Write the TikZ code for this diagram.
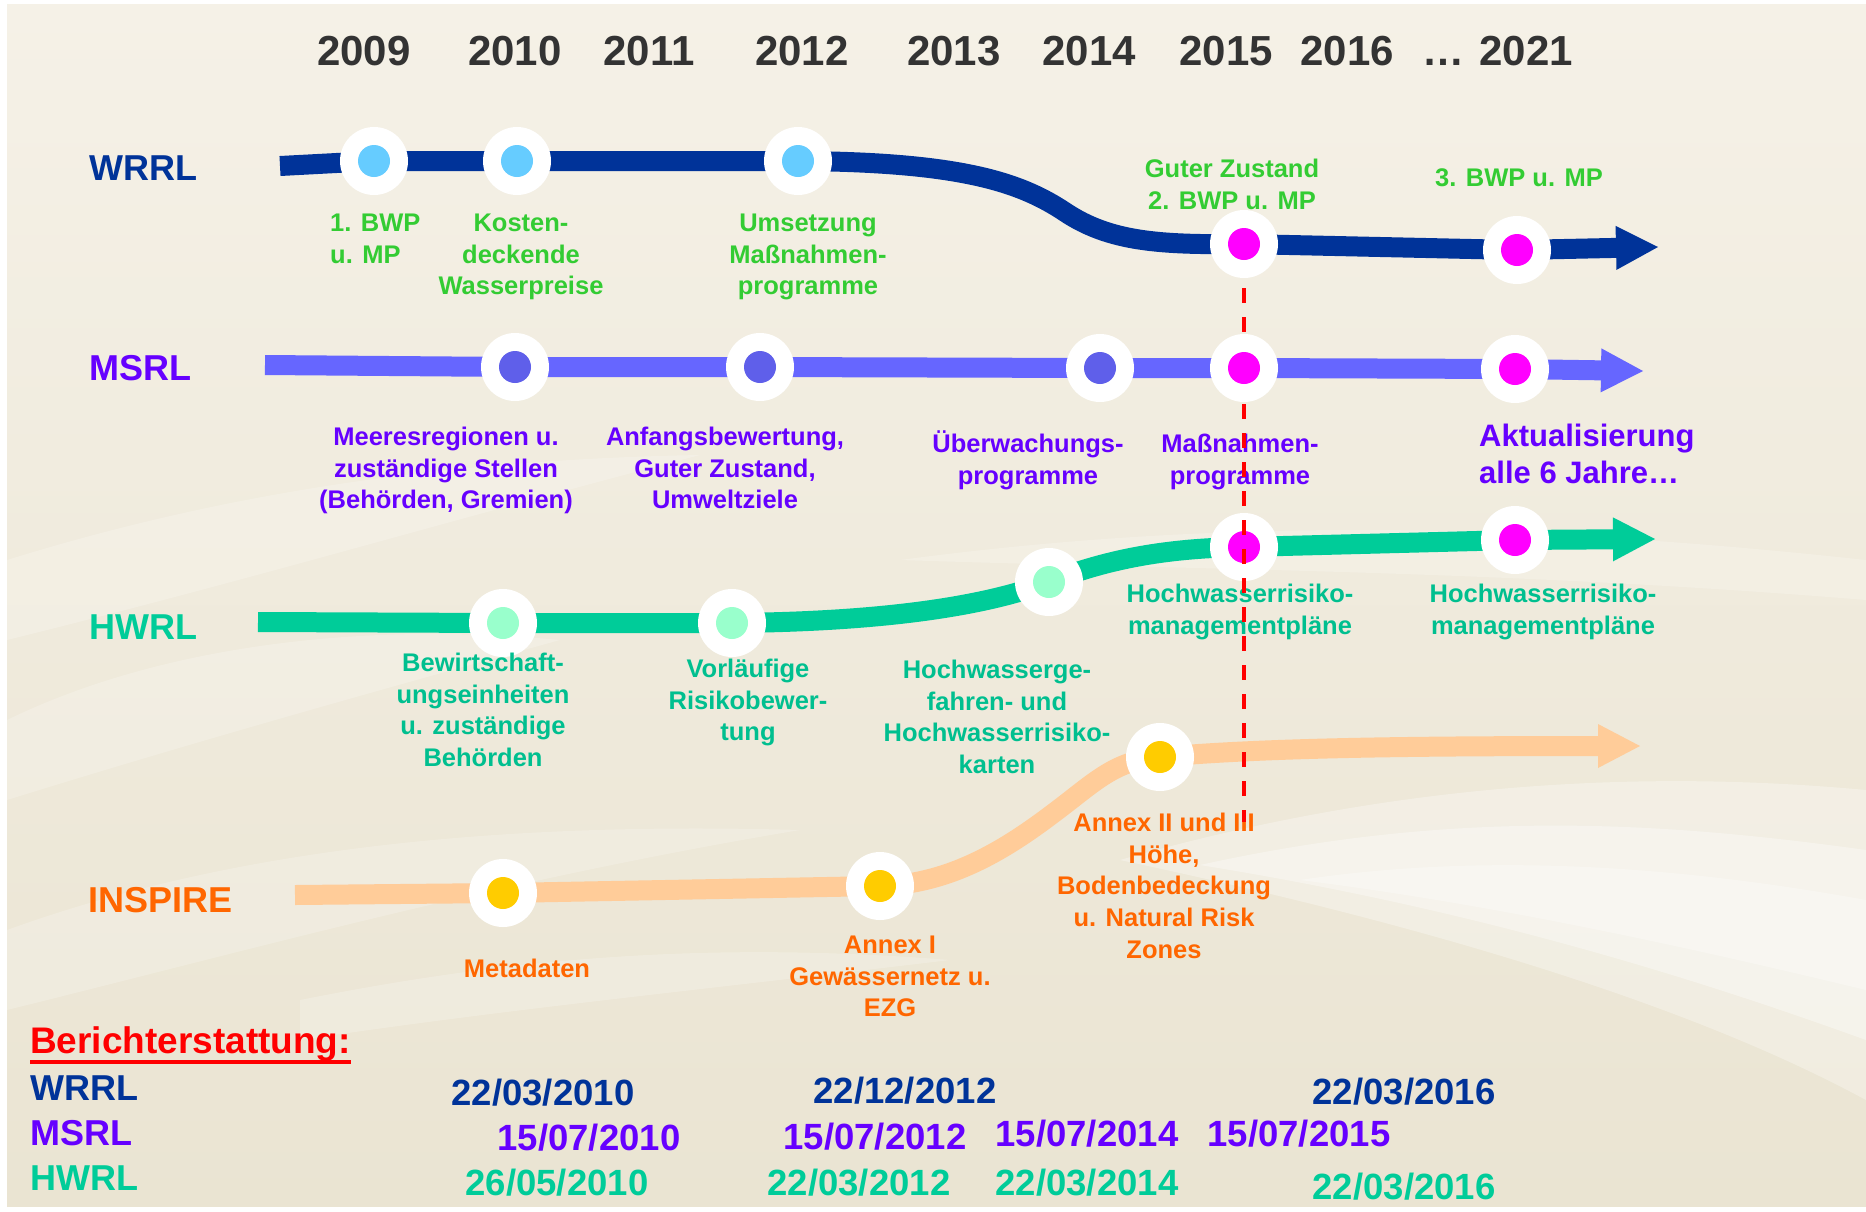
\documentclass[tikz,border=0pt]{standalone}
\usepackage{fontspec}
\setmainfont{Liberation Sans}
\usetikzlibrary{arrows.meta,calc}
\definecolor{wrrl}{HTML}{003399}
\definecolor{wlab}{HTML}{33CC33}
\definecolor{wdot}{HTML}{66CCFF}
\definecolor{msrl}{HTML}{6666FF}
\definecolor{mtxt}{HTML}{6600FF}
\definecolor{mdot}{HTML}{5F5FEA}
\definecolor{hwrl}{HTML}{00CC99}
\definecolor{htxt}{HTML}{00BF8F}
\definecolor{hdot}{HTML}{99FFCC}
\definecolor{insp}{HTML}{FFCC99}
\definecolor{itxt}{HTML}{FF6600}
\definecolor{idot}{HTML}{FFCC00}
\definecolor{mag}{HTML}{FF00FF}
\definecolor{yeartxt}{HTML}{333333}
\definecolor{bgtop}{HTML}{F5F1E7}
\definecolor{bgbot}{HTML}{EAE4D2}
\newcommand\mystrut{\rule{0pt}{0.95em}}
\tikzset{
  track/.style={line width=20pt},
  arrowend/.style={-{Triangle[length=42pt 0 0,width=44pt 0 0,line width=0pt]}},
  ring/.style={circle,fill=white,minimum size=68pt,inner sep=0pt},
  dot/.style={circle,fill=#1,minimum size=32pt,inner sep=0pt},
  year/.style={font=\fontsize{42}{50}\selectfont\bfseries,text=yeartxt,anchor=base,inner sep=0pt},
  big/.style={font=\fontsize{36}{42}\selectfont\bfseries,anchor=base west,inner sep=0pt},
  datum/.style={font=\fontsize{36.5}{42}\selectfont\bfseries,anchor=base,inner sep=0pt},
  lbl/.style={font=\fontsize{25.5}{31.7}\selectfont\bfseries,align=center,anchor=north,inner sep=0pt},
  lblone/.style={font=\fontsize{25.5}{31.7}\selectfont\bfseries,anchor=base,inner sep=0pt},
  redline/.style={draw=red,line width=4pt,dash pattern=on 15pt off 14pt,dash phase=19pt}
}
\begin{document}
\begin{tikzpicture}[x=1pt,y=-1pt]
\useasboundingbox (0,0) rectangle (1866,1211);
% background
\fill[white] (0,0) rectangle (1866,1211);
\shade[top color=bgtop,bottom color=bgbot] (7,4) rectangle (1866,1206);
\begin{scope}[white,opacity=0.2]
  \fill (7,560) .. controls (200,500) and (420,460) .. (700,455) .. controls (450,520) and (250,580) .. (7,640) -- cycle;
  \fill (7,720) .. controls (150,650) and (350,620) .. (560,640) .. controls (380,690) and (200,740) .. (7,800) -- cycle;
  \fill (7,930) .. controls (200,860) and (450,820) .. (800,830) .. controls (500,880) and (250,950) .. (7,1010) -- cycle;
  \fill (300,1000) .. controls (500,960) and (700,940) .. (950,960) .. controls (700,990) and (500,1010) .. (300,1040) -- cycle;
  \fill (900,560) .. controls (1200,520) and (1500,520) .. (1866,560) -- (1866,600) .. controls (1500,570) and (1200,570) .. (900,560) -- cycle;
\end{scope}
\begin{scope}[white]
  \fill[opacity=0.3] (1120,860) .. controls (1400,780) and (1650,770) .. (1866,790) -- (1866,1100) .. controls (1700,1010) and (1450,930) .. (1120,860) -- cycle;
  \fill[opacity=0.35] (1200,865) .. controls (1450,810) and (1650,820) .. (1866,850) -- (1866,1040) .. controls (1700,980) and (1480,910) .. (1200,865) -- cycle;
  \fill[opacity=0.3] (1300,880) .. controls (1500,850) and (1700,870) .. (1866,900) -- (1866,990) .. controls (1700,950) and (1500,905) .. (1300,880) -- cycle;
\end{scope}

% coordinates of the milestones
\coordinate (wS) at (280,166);
\coordinate (w09) at (374,161);
\coordinate (w10) at (517,161);
\coordinate (w12) at (798,161);
\coordinate (w15) at (1244,244);
\coordinate (w21) at (1517,250);
\coordinate (wE) at (1658,247);
\coordinate (mS) at (265,365);
\coordinate (m10) at (515,367);
\coordinate (m12) at (760,367);
\coordinate (m14) at (1100,368);
\coordinate (m15) at (1244,368);
\coordinate (m21) at (1515,369);
\coordinate (mE) at (1643,371);
\coordinate (hS) at (258,622);
\coordinate (h10) at (503,623);
\coordinate (h12) at (732,623);
\coordinate (h14) at (1049,582);
\coordinate (h15) at (1244,547);
\coordinate (h21) at (1515,540);
\coordinate (hE) at (1655,539);
\coordinate (iS) at (295,895);
\coordinate (i10) at (503,893);
\coordinate (i12) at (880,886);
\coordinate (i14) at (1160,757);
\coordinate (iE) at (1640,746);
\coordinate (redend) at (1244,822);

% tracks
\draw[track,wrrl,arrowend] (wS) -- (w09) -- (w10) -- (w12)
  .. controls (960,162) and (1020,182) .. (1065,212)
  .. controls (1110,242) and (1160,245) .. (w15) -- (w21) -- (wE);
\draw[track,msrl,arrowend] (mS) -- (m10) -- (m12) -- (m14) -- (m15) -- (m21) -- (mE);
\draw[track,hwrl,arrowend] (hS) -- (h10) -- (h12)
  .. controls (850,622) and (970,612) .. (h14)
  .. controls (1110,558) and (1170,548) .. (h15) -- (h21) -- (hE);
\draw[track,insp,arrowend] (iS) -- (i10) -- (i12)
  .. controls (950,884) and (1005,850) .. (1055,812)
  .. controls (1095,782) and (1115,760) .. (i14)
  .. controls (1260,748) and (1400,746) .. (iE);

% lower milestones (the red marker runs over them)
\foreach \n/\c in {h10/hdot,h12/hdot,h14/hdot,h15/mag,h21/mag,
                   i10/idot,i12/idot,i14/idot}{
  \node[ring] (\n r) at (\n) {};
  \node[dot=\c] (\n d) at (\n) {};
}

% years
\node[year] (y09) at (364,65) {2009};
\node[year] (y10) at (515,65) {2010};
\node[year] (y11) at (649,65) {2011};
\node[year] (y12) at (802,65) {2012};
\node[year] (y13) at (954,65) {2013};
\node[year] (y14) at (1089,65) {2014};
\node[year] (y15) at (1226,65) {2015};
\node[year] (y16) at (1347,65) {2016};
\node[year] (ydots) at (1443,65) {…};
\node[year] (y21) at (1526,65) {2021};

% row titles
\node[big,text=wrrl] (tW) at (89,180) {WRRL};
\node[big,text=mtxt] (tM) at (89,380) {MSRL};
\node[big,text=hwrl] (tH) at (89,639) {HWRL};
\node[big,text=itxt] (tI) at (88,912) {INSPIRE};

% WRRL labels
\node[lbl,text=wlab,align=left,anchor=north west] (lw09) at (330,207) {\mystrut 1. BWP\\u. MP};
\node[lbl,text=wlab] (lw10) at (521,207) {\mystrut Kosten-\\deckende\\Wasserpreise};
\node[lbl,text=wlab] (lw12) at (808,207) {\mystrut Umsetzung\\Maßnahmen-\\programme};
\node[lbl,text=wlab] (lw15) at (1232,153) {\mystrut Guter Zustand\\2. BWP u. MP};
\node[lblone,text=wlab] (lw21) at (1519,186) {3. BWP u. MP};

% MSRL labels
\node[lbl,text=mtxt] (lm10) at (446,421) {\mystrut Meeresregionen u.\\zuständige Stellen\\(Behörden, Gremien)};
\node[lbl,text=mtxt] (lm12) at (725,421) {\mystrut Anfangsbewertung,\\Guter Zustand,\\Umweltziele};
\node[lbl,text=mtxt] (lm14) at (1028,428) {\mystrut Überwachungs-\\programme};
\node[lbl,text=mtxt] (lm15) at (1240,428) {\mystrut Maßnahmen-\\programme};
\node[lbl,text=mtxt,align=left,anchor=north west,font=\fontsize{31}{37}\selectfont\bfseries] (lm21) at (1479,417) {\mystrut Aktualisierung\\alle 6 Jahre…};

% HWRL labels
\node[lbl,text=htxt] (lh10) at (483,647) {\mystrut Bewirtschaft-\\ungseinheiten\\u. zuständige\\Behörden};
\node[lbl,text=htxt] (lh12) at (748,653) {\mystrut Vorläufige\\Risikobewer-\\tung};
\node[lbl,text=htxt] (lh14) at (997,654) {\mystrut Hochwasserge-\\fahren- und\\Hochwasserrisiko-\\karten};
\node[lbl,text=htxt] (lh15) at (1240,578) {\mystrut Hochwasserrisiko-\\managementpläne};
\node[lbl,text=htxt] (lh21) at (1543,578) {\mystrut Hochwasserrisiko-\\managementpläne};

% INSPIRE labels
\node[lblone,text=itxt] (li10) at (527,977) {Metadaten};
\node[lbl,text=itxt] (li12) at (890,929) {\mystrut Annex I\\Gewässernetz u.\\EZG};
\node[lbl,text=itxt] (li14) at (1164,807) {\mystrut Annex II und III\\Höhe,\\Bodenbedeckung\\u. Natural Risk\\Zones};

% reporting
\node[big,text=red,font=\fontsize{37}{42}\selectfont\bfseries] (bt) at (30,1053) {Berichterstattung:};
\draw[red,line width=4pt] ($(bt.base west)+(0,9)$) -- ($(bt.base east)+(0,9)$);
\node[big,text=wrrl] (bW) at (30,1100) {WRRL};
\node[big,text=mtxt] (bM) at (30,1145) {MSRL};
\node[big,text=hwrl] (bH) at (30,1190) {HWRL};

\node[datum,text=wrrl] (dw1) at (543,1105) {22/03/2010};
\node[datum,text=wrrl] (dw2) at (905,1103) {22/12/2012};
\node[datum,text=wrrl] (dw3) at (1404,1104) {22/03/2016};
\node[datum,text=mtxt] (dm1) at (589,1150) {15/07/2010};
\node[datum,text=mtxt] (dm2) at (875,1149) {15/07/2012};
\node[datum,text=mtxt] (dm3) at (1087,1146) {15/07/2014};
\node[datum,text=mtxt] (dm4) at (1299,1146) {15/07/2015};
\node[datum,text=hwrl] (dh1) at (557,1195) {26/05/2010};
\node[datum,text=hwrl] (dh2) at (859,1195) {22/03/2012};
\node[datum,text=hwrl] (dh3) at (1087,1195) {22/03/2014};
\node[datum,text=hwrl] (dh4) at (1404,1199) {22/03/2016};

% red dashed marker for 2015 (from the WRRL milestone downwards)
\draw[redline] ($(w15)+(0,34)$) -- (redend);

% upper milestones (drawn over the red marker)
\foreach \n/\c in {w09/wdot,w10/wdot,w12/wdot,w15/mag,w21/mag,
                   m10/mdot,m12/mdot,m14/mdot,m15/mag,m21/mag}{
  \node[ring] (\n r) at (\n) {};
  \node[dot=\c] (\n d) at (\n) {};
}
\end{tikzpicture}
\end{document}
